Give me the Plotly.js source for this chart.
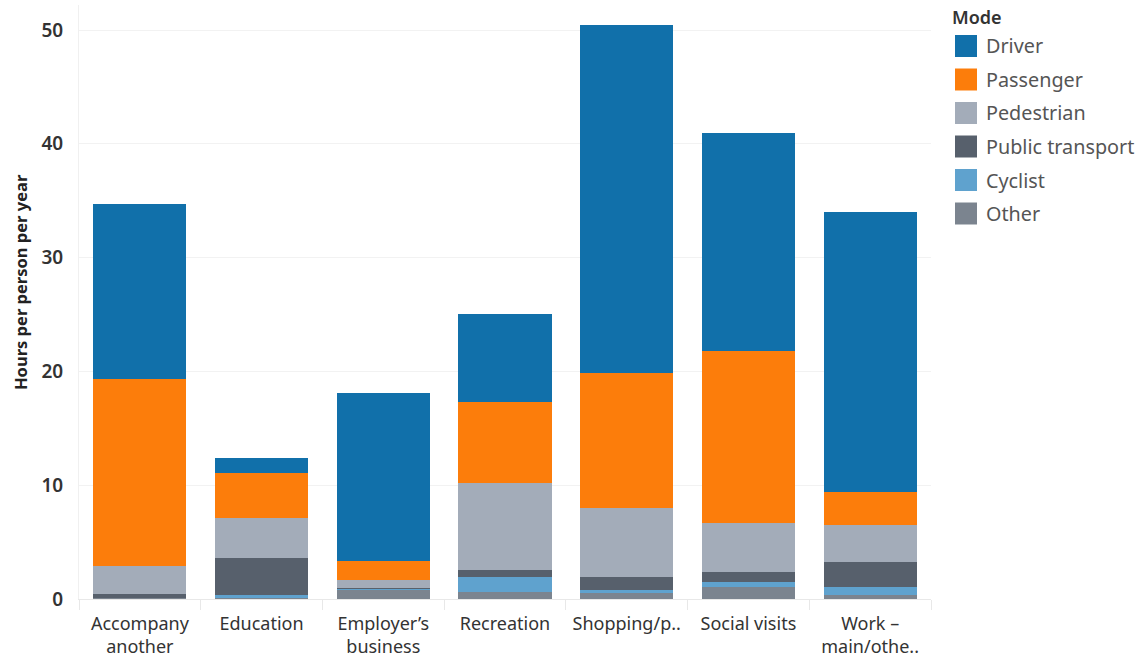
<!DOCTYPE html>
<html><head><meta charset="utf-8">
<script src="https://cdn.plot.ly/plotly-3.0.1.min.js"></script>
<style>html,body{margin:0;padding:0;background:#fff}#chart{width:1148px;height:665px}</style>
</head><body><div id="chart"></div>
<script>
const categories = ["Accompany<br>another","Education","Employer’s<br>business","Recreation","Shopping/p..","Social visits","Work –<br>main/othe.."];
const modes = ["Driver","Passenger","Pedestrian","Public transport","Cyclist","Other"];
const colors = ["#1170aa","#fc7d0b","#a3acb9","#57606c","#5fa2ce","#7b848f"];
const driver    = [15.38, 1.32, 14.80, 7.73, 30.58, 19.16, 24.60];
const passenger = [16.43, 3.95, 1.61, 7.12, 11.86, 15.11, 2.90];
const pedestrian= [2.49, 3.54, 0.73, 7.64, 6.04, 4.28, 3.22];
const publicTransport = [0.36, 3.23, 0.12, 0.59, 1.17, 0.88, 2.20];
const cyclist   = [0.00, 0.30, 0.05, 1.32, 0.29, 0.44, 0.73];
const other     = [0.05, 0.05, 0.79, 0.64, 0.50, 1.08, 0.35];
const seriesValues = [driver, passenger, pedestrian, publicTransport, cyclist, other];
const yTicks = [0, 10, 20, 30, 40, 50];

const L = 79, R = 217, T = 5, B = 66, W = 1148, H = 665;
const plotW = W - L - R, plotH = H - T - B;
const px2x = p => (p - L) / plotW;
const px2y = p => (H - B - p) / plotH;

const traces = [];
for (let i = modes.length - 1; i >= 0; i--) {
  traces.push({type:'bar', name:modes[i], x:categories, y:seriesValues[i],
    marker:{color:colors[i], line:{width:0}}, showlegend:false, hoverinfo:'x+y+name'});
}

const shapes = [], annotations = [];
annotations.push({xref:'paper', yref:'paper', x:px2x(20), y:px2y(282), xanchor:'center', yanchor:'middle',
  textangle:-90, text:'Hours per person per year', showarrow:false,
  font:{family:'Noto Sans', size:16.5, color:'#222', weight:700}});
annotations.push({xref:'paper', yref:'paper', x:px2x(950), y:px2y(17), xanchor:'left', yanchor:'middle',
  text:'Mode', showarrow:false, font:{family:'Noto Sans', size:18, color:'#333', weight:600}});
modes.forEach((m, i) => {
  const cy = 46 + i * 33.5;
  shapes.push({type:'rect', xref:'paper', yref:'paper', x0:px2x(955), x1:px2x(977), y0:px2y(cy-11), y1:px2y(cy+11),
    fillcolor:colors[i], line:{width:0}});
  annotations.push({xref:'paper', yref:'paper', x:px2x(984), y:px2y(cy), xanchor:'left', yanchor:'middle',
    text:m, showarrow:false, font:{family:'Noto Sans', size:19.8, color:'#555'}});
});

const layout = {
  width:W, height:H, margin:{l:L, r:R, t:T, b:B, pad:0},
  paper_bgcolor:'#fff', plot_bgcolor:'#fff',
  barmode:'stack', bargap:0.235, showlegend:false,
  font:{family:'Noto Sans', color:'#333'},
  xaxis:{tickfont:{family:'Noto Sans', size:18, color:'#333'}, showgrid:false, tickangle:0,
    ticks:'outside', tickson:'boundaries', ticklen:10, tickcolor:'#e8e8e8',
    showline:true, linecolor:'#e8e8e8', linewidth:1, ticklabelstandoff:8, fixedrange:true},
  yaxis:{range:[0, plotH/11.38], tickvals:yTicks, ticktext:yTicks.map(String),
    tickfont:{family:'Noto Sans', size:19, color:'#333', weight:600},
    gridcolor:'#f2f2f2', zeroline:false, showline:true, linecolor:'#f0f0f0',
    ticks:'', ticklabelstandoff:11},
  shapes, annotations
};
Plotly.newPlot('chart', traces, layout, {displayModeBar:false, staticPlot:true});
</script></body></html>
